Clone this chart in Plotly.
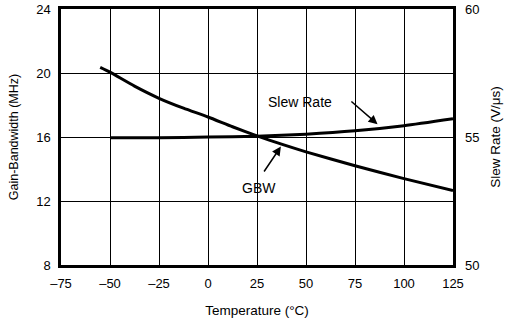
import plotly.graph_objects as go

temp_gbw = [-55, -50, -37.5, -25, -12.5, 0, 12.5, 25, 37.5, 50, 75, 100, 125]
gbw = [20.35, 20.05, 19.18, 18.42, 17.8, 17.25, 16.64, 16.07, 15.55, 15.07, 14.2, 13.4, 12.65]

temp_sr = [-50, -25, 0, 25, 50, 75, 100, 125]
slew = [54.97, 54.97, 55.0, 55.03, 55.11, 55.24, 55.44, 55.71]

x_ticks = [-75, -50, -25, 0, 25, 50, 75, 100, 125]
x_labels = ["\u201375", "\u201350", "\u201325", "0", "25", "50", "75", "100", "125"]
y_ticks = [8, 12, 16, 20, 24]
y2_ticks = [50, 55, 60]

FONT = "Liberation Sans, Arial, sans-serif"

fig = go.Figure()
fig.add_trace(go.Scatter(x=temp_gbw, y=gbw, mode="lines",
                         line=dict(color="black", width=3, shape="spline", smoothing=0.6),
                         showlegend=False, yaxis="y"))
fig.add_trace(go.Scatter(x=temp_sr, y=slew, mode="lines",
                         line=dict(color="black", width=3, shape="spline", smoothing=0.6),
                         showlegend=False, yaxis="y2"))

fig.update_layout(
    width=507, height=323,
    margin=dict(l=61, r=54, t=9, b=58),
    paper_bgcolor="white", plot_bgcolor="white",
    font=dict(family=FONT, color="black", size=12.5),
    xaxis=dict(range=[-75, 125], tickvals=x_ticks, ticktext=x_labels, automargin=False,
               showgrid=True, gridcolor="black", gridwidth=1.2,
               showline=True, linecolor="black", linewidth=2.5, mirror=True,
               zeroline=False, ticks="", ticklabelstandoff=5, tickfont=dict(size=13),
               title=dict(text="Temperature (°C)", font=dict(size=13.5), standoff=16)),
    yaxis=dict(range=[8, 24], tickvals=y_ticks, automargin=False,
               showgrid=True, gridcolor="black", gridwidth=1.2,
               showline=True, linecolor="black", linewidth=2.5, mirror=True,
               zeroline=False, ticks="", ticklabelstandoff=5, tickfont=dict(size=13),
               title=dict(text="Gain-Bandwidth (MHz)", font=dict(size=12.5), standoff=15)),
    yaxis2=dict(range=[50, 60], tickvals=y2_ticks, overlaying="y", side="right", showgrid=False,
                automargin=False, zeroline=False, ticks="", ticklabelstandoff=11, tickfont=dict(size=13),
                title=dict(text="Slew Rate (V/μs)", font=dict(size=13.5), standoff=12)),
)

fig.add_annotation(x=46.9, y=18.2, xref="x", yref="y", text="Slew Rate", showarrow=False,
                   font=dict(size=14, family=FONT))
fig.add_annotation(x=86.5, y=16.8, xref="x", yref="y", ax=72.4, ay=18.3, axref="x", ayref="y",
                   text="", showarrow=True, arrowhead=2, arrowsize=1.2, arrowwidth=1.5, arrowcolor="black")
fig.add_annotation(x=26, y=12.8, xref="x", yref="y", text="GBW", showarrow=False,
                   font=dict(size=14, family=FONT))
fig.add_annotation(x=37.2, y=15.4, xref="x", yref="y", ax=28.1, ay=13.75, axref="x", ayref="y",
                   text="", showarrow=True, arrowhead=2, arrowsize=1.2, arrowwidth=1.5, arrowcolor="black")

fig.write_html("out.html", config={"displayModeBar": False},
               post_script="document.body.style.margin='0';")
